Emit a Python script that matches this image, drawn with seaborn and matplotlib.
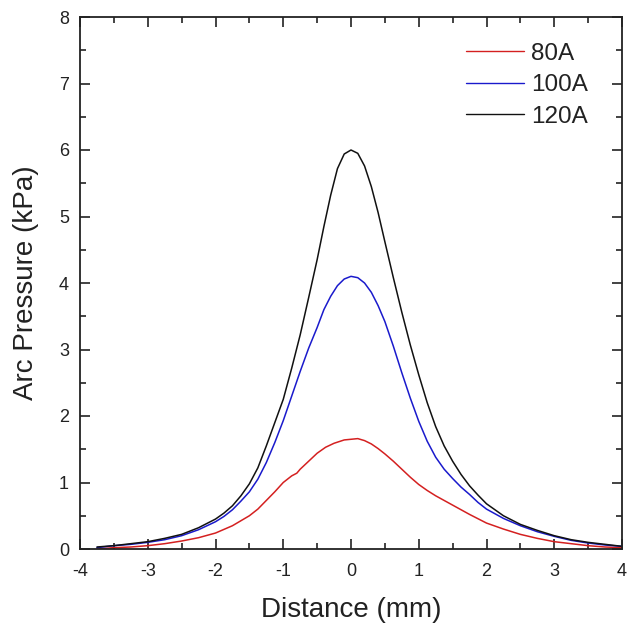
import matplotlib
matplotlib.use("Agg")
import matplotlib.pyplot as plt
import seaborn as sns
import pandas as pd
from matplotlib.ticker import MultipleLocator

# ---- data ----
x_80 = [-3.75, -3.5, -3.25, -3.0, -2.75, -2.5, -2.25, -2.0, -1.75, -1.5, -1.375, -1.25, -1.125,
        -1.0, -0.875, -0.8, -0.75, -0.625, -0.5, -0.375, -0.25, -0.1, 0.0, 0.1, 0.2, 0.3, 0.4,
        0.5, 0.625, 0.75, 0.875, 1.0, 1.125, 1.25, 1.5, 1.75, 2.0, 2.25, 2.5, 2.75, 3.0, 3.25,
        3.5, 3.75, 4.0]
p_80 = [0.0, 0.02, 0.03, 0.05, 0.08, 0.12, 0.17, 0.24, 0.35, 0.50, 0.60, 0.73, 0.86,
        1.00, 1.10, 1.14, 1.20, 1.32, 1.44, 1.53, 1.59, 1.64, 1.65, 1.66, 1.63, 1.58, 1.51,
        1.43, 1.32, 1.20, 1.08, 0.97, 0.88, 0.80, 0.66, 0.52, 0.39, 0.30, 0.22, 0.16, 0.11, 0.08,
        0.05, 0.03, 0.02]

x_100 = [-3.75, -3.5, -3.25, -3.0, -2.75, -2.5, -2.25, -2.0, -1.875, -1.75, -1.625, -1.5, -1.375,
         -1.25, -1.125, -1.0, -0.875, -0.75, -0.625, -0.5, -0.4, -0.3, -0.2, -0.1, 0.0, 0.1, 0.2,
         0.3, 0.4, 0.5, 0.625, 0.75, 0.875, 1.0, 1.125, 1.25, 1.375, 1.5, 1.625, 1.75, 1.875,
         2.0, 2.25, 2.5, 2.75, 3.0, 3.25, 3.5, 3.75, 4.0]
p_100 = [0.02, 0.05, 0.07, 0.10, 0.14, 0.20, 0.29, 0.41, 0.49, 0.59, 0.72, 0.86, 1.05,
         1.30, 1.60, 1.93, 2.30, 2.67, 3.02, 3.33, 3.60, 3.80, 3.96, 4.06, 4.10, 4.08, 4.00,
         3.86, 3.66, 3.42, 3.05, 2.65, 2.27, 1.92, 1.62, 1.38, 1.20, 1.06, 0.93, 0.82, 0.70,
         0.60, 0.46, 0.35, 0.26, 0.19, 0.13, 0.09, 0.06, 0.04]

x_120 = [-3.75, -3.5, -3.25, -3.0, -2.75, -2.5, -2.25, -2.0, -1.875, -1.75, -1.625, -1.5, -1.375,
         -1.25, -1.125, -1.0, -0.875, -0.75, -0.625, -0.5, -0.4, -0.3, -0.2, -0.1, 0.0, 0.1, 0.2,
         0.3, 0.4, 0.5, 0.625, 0.75, 0.875, 1.0, 1.125, 1.25, 1.375, 1.5, 1.625, 1.75, 1.875,
         2.0, 2.25, 2.5, 2.75, 3.0, 3.25, 3.5, 3.75, 4.0]
p_120 = [0.03, 0.05, 0.08, 0.11, 0.16, 0.22, 0.32, 0.45, 0.54, 0.65, 0.80, 0.98, 1.22,
         1.55, 1.90, 2.25, 2.72, 3.22, 3.78, 4.35, 4.85, 5.32, 5.72, 5.94, 6.00, 5.95, 5.76,
         5.45, 5.06, 4.62, 4.08, 3.56, 3.07, 2.62, 2.20, 1.84, 1.55, 1.32, 1.12, 0.95, 0.81,
         0.68, 0.50, 0.37, 0.28, 0.20, 0.14, 0.10, 0.07, 0.04]

labels = ["80A", "100A", "120A"]
colors = ["#d42020", "#1a1acc", "#111111"]

x_ticks = [-4, -3, -2, -1, 0, 1, 2, 3, 4]
y_ticks = [0, 1, 2, 3, 4, 5, 6, 7, 8]

df = pd.concat([
    pd.DataFrame({"Distance": x_80, "Pressure": p_80, "Current": labels[0]}),
    pd.DataFrame({"Distance": x_100, "Pressure": p_100, "Current": labels[1]}),
    pd.DataFrame({"Distance": x_120, "Pressure": p_120, "Current": labels[2]}),
], ignore_index=True)

sns.set_theme(style="ticks")
plt.rcParams["font.family"] = ["Liberation Sans", "DejaVu Sans"]

fig = plt.figure(figsize=(6.27, 6.31), dpi=100)
ax = fig.add_axes([80 / 627, 1 - 549 / 631, 542 / 627, 532 / 631])

sns.lineplot(data=df, x="Distance", y="Pressure", hue="Current", hue_order=labels,
             palette=dict(zip(labels, colors)), linewidth=1.1, ax=ax, sort=True,
             estimator=None)

ax.set_xlim(-4, 4)
ax.set_ylim(0, 8)
ax.set_xticks(x_ticks)
ax.set_yticks(y_ticks)
ax.set_xticklabels([str(t) for t in x_ticks])
ax.set_yticklabels([str(t) for t in y_ticks])
ax.xaxis.set_minor_locator(MultipleLocator(0.5))
ax.yaxis.set_minor_locator(MultipleLocator(0.5))

for side in ["top", "right", "bottom", "left"]:
    ax.spines[side].set_visible(True)
    ax.spines[side].set_linewidth(1.3)
    ax.spines[side].set_color("#222222")

ax.tick_params(which="both", direction="in", top=True, right=True, color="#222222",
               width=1.2, labelsize=13, labelcolor="#222222")
ax.tick_params(which="major", length=7.5)
ax.tick_params(which="minor", length=4)
ax.tick_params(axis="x", which="major", pad=10)
ax.tick_params(axis="y", which="major", pad=8)

ax.set_xlabel("Distance (mm)", fontsize=20, color="#222222", labelpad=12)
ax.set_ylabel("Arc Pressure (kPa)", fontsize=20, color="#222222", labelpad=14)

leg = ax.legend(loc="upper right", frameon=False, fontsize=17.5, handlelength=2.4,
                labelspacing=0.4, handletextpad=0.3, borderaxespad=0.65,
                bbox_to_anchor=(0.985, 1.0))
for line in leg.get_lines():
    line.set_linewidth(1.0)
for t in leg.get_texts():
    t.set_color("#222222")

fig.savefig("out.png", dpi=100, facecolor="white")
